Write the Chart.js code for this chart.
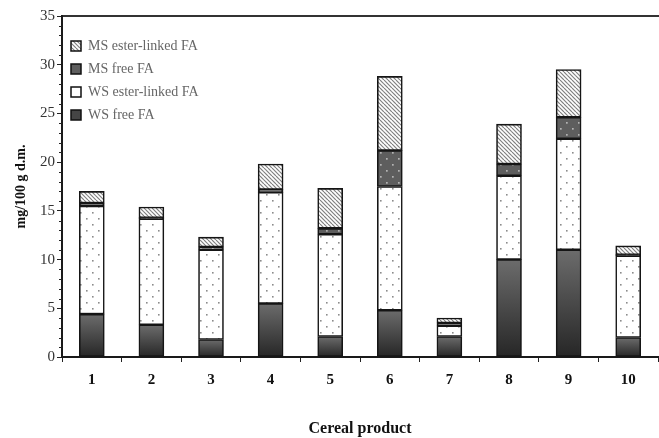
<!DOCTYPE html>
<html lang="en">
<head>
    <meta charset="UTF-8">
    <title>Cereal product FA</title>
    <script src="https://cdn.jsdelivr.net/npm/chart.js"></script>
    <style>
        html, body { margin: 0; padding: 0; background: white; }
        #wrap { width: 659px; height: 438px; }
    </style>
</head>
<body>
    <div id="wrap"><canvas id="faChart" width="659" height="438"></canvas></div>
    <script>
        const products = ['1', '2', '3', '4', '5', '6', '7', '8', '9', '10'];
        const wsFree   = [4.4, 3.3, 1.8, 5.5, 2.1, 4.8, 2.1, 10.0, 11.0, 2.0];
        const wsEster  = [11.1, 10.9, 9.2, 11.4, 10.5, 12.7, 1.1, 8.6, 11.4, 8.4];
        const msFree   = [0.3, 0.1, 0.3, 0.3, 0.6, 3.7, 0.3, 1.2, 2.2, 0.1];
        const msEster  = [1.2, 1.1, 1.0, 2.6, 4.1, 7.6, 0.5, 4.1, 4.9, 0.9];
        const yTicks   = [0, 5, 10, 15, 20, 25, 30, 35];

        const serif = '"Liberation Serif", "DejaVu Serif", serif';

        function makePattern(bg, draw, size) {
            const c = document.createElement('canvas');
            c.width = size; c.height = size;
            const g = c.getContext('2d');
            g.fillStyle = bg;
            g.fillRect(0, 0, size, size);
            draw(g);
            return g.createPattern(c, 'repeat');
        }

        const ctx = document.getElementById('faChart').getContext('2d');

        const dotsLight = makePattern('#ffffff', function(g) {
            g.fillStyle = '#8c8c8c';
            g.fillRect(2, 2, 1.6, 1.6);
            g.fillRect(8, 8, 1.6, 1.6);
        }, 12);
        const dotsDark = makePattern('#5e5e5e', function(g) {
            g.fillStyle = '#b4b4b4';
            g.fillRect(2, 2, 1.7, 1.7);
            g.fillRect(8, 8, 1.7, 1.7);
        }, 12);
        const hatch = makePattern('#ffffff', function(g) {
            g.strokeStyle = '#808080';
            g.lineWidth = 1.2;
            for (let i = -8; i <= 8; i += 4) {
                g.beginPath();
                g.moveTo(i, 0);
                g.lineTo(i + 8, 8);
                g.stroke();
            }
        }, 8);

        function darkGradient(c) {
            const chart = c.chart;
            if (!chart.chartArea || c.raw === undefined) return '#444';
            const y = chart.scales.y;
            const g = chart.ctx.createLinearGradient(0, y.getPixelForValue(0), 0, y.getPixelForValue(c.raw));
            g.addColorStop(0, '#262626');
            g.addColorStop(1, '#6c6c6c');
            return g;
        }

        const minorTicks = {
            id: 'minorTicks',
            afterDraw(chart) {
                const y = chart.scales.y;
                const g = chart.ctx;
                g.save();
                g.strokeStyle = '#222';
                g.lineWidth = 1;
                for (let v = y.min; v <= y.max; v++) {
                    if (v % 5 === 0) continue;
                    const py = Math.round(y.getPixelForValue(v)) + 0.5;
                    g.beginPath();
                    g.moveTo(y.right - 3, py);
                    g.lineTo(y.right, py);
                    g.stroke();
                }
                g.restore();
            }
        };

        const segment = { borderColor: '#151515', borderWidth: 1.6, borderSkipped: false, barThickness: 25, stack: 's' };

        new Chart(ctx, {
            type: 'bar',
            data: {
                labels: products,
                datasets: [
                    Object.assign({ label: 'WS free FA', data: wsFree, backgroundColor: darkGradient, legendFill: '#454545' }, segment),
                    Object.assign({ label: 'WS ester-linked FA', data: wsEster, backgroundColor: dotsLight, legendFill: '#ffffff' }, segment),
                    Object.assign({ label: 'MS free FA', data: msFree, backgroundColor: dotsDark, legendFill: '#5e5e5e' }, segment),
                    Object.assign({ label: 'MS ester-linked FA', data: msEster, backgroundColor: hatch, legendFill: hatch }, segment)
                ]
            },
            options: {
                responsive: false,
                animation: false,
                layout: { padding: { top: 16, right: 1 } },
                plugins: {
                    tooltip: { enabled: false },
                    legend: {
                        position: 'chartArea',
                        align: 'start',
                        reverse: true,
                        title: { display: true, text: ' ', padding: { top: 0, bottom: 18 }, font: { size: 10 } },
                        labels: {
                            boxWidth: 10,
                            boxHeight: 10,
                            padding: 9,
                            color: '#222',
                            font: { family: serif, size: 14 },
                            generateLabels(chart) {
                                return chart.data.datasets.map(function(ds, i) {
                                    return {
                                        text: ds.label,
                                        fillStyle: ds.legendFill,
                                        strokeStyle: '#111',
                                        lineWidth: 1.5,
                                        datasetIndex: i,
                                        hidden: false
                                    };
                                });
                            }
                        }
                    }
                },
                scales: {
                    x: {
                        stacked: true,
                        grid: { drawOnChartArea: false, offset: true, tickLength: 5, color: '#222', tickColor: '#222' },
                        border: { width: 2, color: '#1a1a1a' },
                        ticks: { color: '#111', padding: 9, font: { family: serif, size: 15, weight: 'bold' } },
                        title: { display: true, text: 'Cereal product', color: '#111', padding: { top: 4, bottom: 0 }, font: { family: serif, size: 16, weight: 'bold' } },
                        afterFit(scale) { scale.height = 81; }
                    },
                    xTop: {
                        position: 'top',
                        labels: products,
                        grid: { display: false },
                        border: { width: 2, color: '#333' },
                        ticks: { display: false },
                        afterFit(scale) { scale.height = 0; }
                    },
                    y: {
                        stacked: true,
                        min: 0,
                        max: 35,
                        afterBuildTicks(scale) { scale.ticks = yTicks.map(v => ({ value: v })); },
                        grid: { drawOnChartArea: false, tickLength: 5, color: '#222', tickColor: '#222' },
                        border: { width: 2, color: '#1a1a1a' },
                        ticks: { color: '#333', padding: 2, font: { family: serif, size: 15 } },
                        title: { display: true, text: 'mg/100 g d.m.', color: '#111', padding: { top: 13, bottom: 0 }, font: { family: serif, size: 14, weight: 'bold' } },
                        afterFit(scale) { scale.width = 62; }
                    }
                }
            },
            plugins: [minorTicks]
        });
    </script>
</body>
</html>
